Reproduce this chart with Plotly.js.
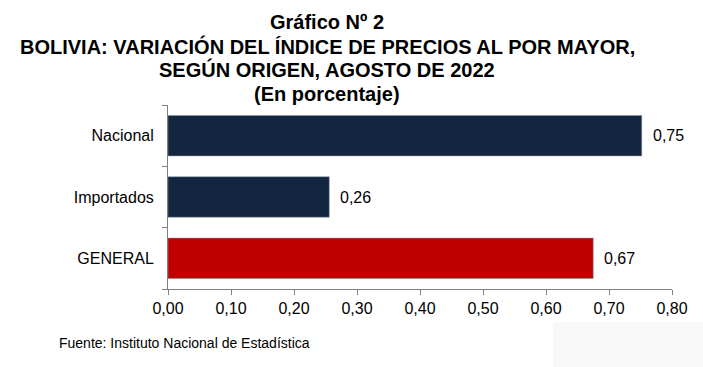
<!DOCTYPE html>
<html>
<head>
<meta charset="utf-8">
<script src="https://cdn.plot.ly/plotly-3.0.1.min.js"></script>
<style>html,body{margin:0;padding:0;background:#fff;}</style>
</head>
<body>
<div id="chart" style="width:703px;height:367px;"></div>
<script>
const categories = ["GENERAL", "Importados", "Nacional"];
const values = [0.675, 0.256, 0.752];
const valueLabels = ["0,67", "0,26", "0,75"];
const barColors = ["#c00000", "#13263f", "#13263f"];
const xTickVals = [0, 0.1, 0.2, 0.3, 0.4, 0.5, 0.6, 0.7, 0.8];
const titleLines = ["Gráfico Nº 2", "BOLIVIA: VARIACIÓN DEL ÍNDICE DE PRECIOS AL POR MAYOR,", "SEGÚN ORIGEN, AGOSTO DE 2022", "(En porcentaje)"];
const sourceText = "Fuente: Instituto Nacional de Estadística";

const FONT = "Liberation Sans, Arial, sans-serif";

const trace = {
  type: "bar",
  orientation: "h",
  y: categories,
  x: values,
  marker: {color: barColors, line: {color: "#8a96a6", width: 0.5}},
  hoverinfo: "none",
  width: 0.66
};

const annotations = [];
for (let i = 0; i < categories.length; i++) {
  annotations.push({
    x: values[i], y: categories[i], xref: "x", yref: "y",
    text: valueLabels[i], showarrow: false, xanchor: "left", xshift: 9,
    font: {family: FONT, size: 16, color: "#000"}
  });
}
const titleY = [22, 46, 70, 94];
for (let i = 0; i < titleLines.length; i++) {
  annotations.push({
    x: 327, y: titleY[i], xref: "paper", yref: "paper",
    text: "<b>" + titleLines[i] + "</b>", showarrow: false,
    xanchor: "center", yanchor: "middle",
    font: {family: FONT, size: 20, color: "#000"}
  });
}
const W = 703, H = 367, L = 168, R = 31, T = 105, B = 78;
const pw = W - L - R, ph = H - T - B;
annotations.forEach(a => {
  if (a.xref === "paper") {
    a.x = (a.x - L) / pw;
    a.y = (H - B - a.y) / ph;
  }
});
annotations.push({
  x: (57 - L) / pw, y: (H - B - 343) / ph, xref: "paper", yref: "paper",
  text: sourceText, showarrow: false, xanchor: "left", yanchor: "middle",
  font: {family: FONT, size: 14, color: "#000"}
});

const layout = {
  width: W, height: H,
  margin: {l: L, r: R, t: T, b: B, pad: 0},
  paper_bgcolor: "#ffffff",
  plot_bgcolor: "#ffffff",
  showlegend: false,
  bargap: 0.34,
  font: {family: FONT, size: 16, color: "#000"},
  xaxis: {
    range: [0, 0.8],
    tickvals: xTickVals,
    tickformat: ".2f",
    showgrid: false,
    zeroline: false,
    showline: true,
    linecolor: "#808080",
    linewidth: 1,
    ticks: "outside",
    ticklen: 5,
    tickcolor: "#808080",
    tickfont: {family: FONT, size: 16, color: "#000"},
    fixedrange: true
  },
  yaxis: {
    type: "category",
    categoryorder: "array",
    categoryarray: categories,
    showgrid: false,
    zeroline: false,
    showline: true,
    linecolor: "#808080",
    linewidth: 1,
    ticks: "outside",
    tickson: "boundaries",
    ticklen: 5,
    tickcolor: "#808080",
    ticklabelstandoff: 10,
    tickfont: {family: FONT, size: 16, color: "#000"},
    fixedrange: true
  },
  separators: ",.",
  annotations: annotations,
  shapes: [
    {type: "rect", xref: "paper", yref: "paper",
     x0: (553 - L) / pw, x1: (703 - L) / pw, y0: (H - B - 367) / ph, y1: (H - B - 322) / ph,
     fillcolor: "#f8f8f8", line: {width: 0}, layer: "below"}
  ]
};

Plotly.newPlot("chart", [trace], layout, {displayModeBar: false, staticPlot: true});
</script>
</body>
</html>
